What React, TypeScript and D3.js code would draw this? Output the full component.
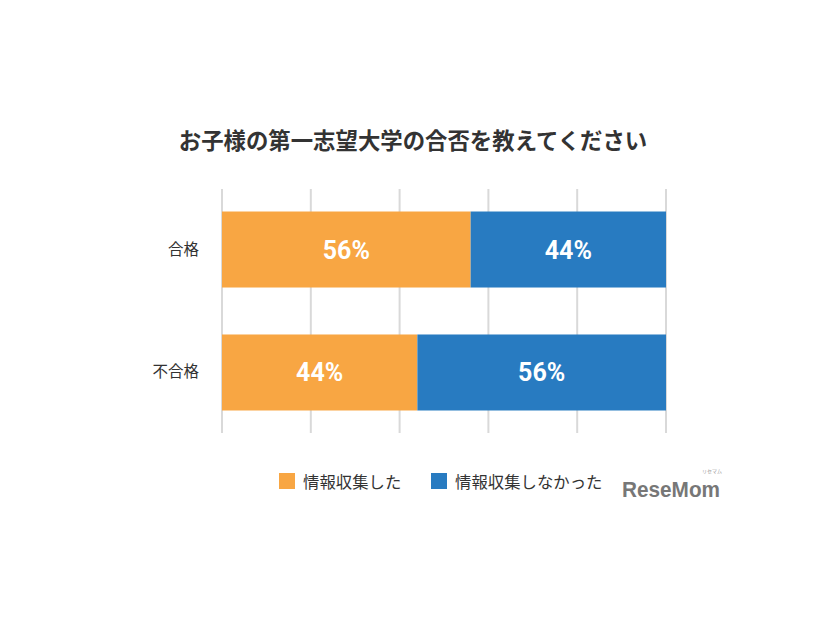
import React from "react";
import * as d3 from "d3";

const categories = ["合格", "不合格"];
const seriesNames = ["情報収集した", "情報収集しなかった"];
const collected = [56, 44];
const notCollected = [44, 56];
const ticks = [0, 20, 40, 60, 80, 100];
const colors = ["#F8A643", "#287BC1"];
const title = "お子様の第一志望大学の合否を教えてください";

export default function App() {
  const W = 826, H = 620;
  const x = d3.scaleLinear().domain([0, 100]).range([222, 666]);
  const y = d3.scaleBand().domain(categories).range([189, 433]).paddingInner(0.382).paddingOuter(0.183);
  const stack = d3.stack<any>().keys(["a", "b"])(
    categories.map((c, i) => ({ cat: c, a: collected[i], b: notCollected[i] }))
  );
  const font = "'Noto Sans CJK JP', 'Noto Sans', sans-serif";
  return (
    <svg width={W} height={H} style={{ position: "absolute", left: 0, top: 0, background: "#fff" }}>
      <rect width={W} height={H} fill="#fff" />
      <text x={413} y={149} textAnchor="middle" fontFamily={font} fontSize={22.4} fontWeight="bold" fill="#333">{title}</text>
      {ticks.map((t) => (
        <line key={t} x1={x(t)} x2={x(t)} y1={189} y2={433} stroke="#d9d9d9" strokeWidth={2} />
      ))}
      {stack.map((s, si) =>
        s.map((d: any, i: number) => {
          const cat = categories[i];
          const x0 = x(d[0]), x1 = x(d[1]);
          const yy = y(cat)!;
          return (
            <g key={si + "-" + i}>
              <rect x={x0} y={yy} width={x1 - x0} height={y.bandwidth()} fill={colors[si]} />
              <text x={(x0 + x1) / 2} y={yy + y.bandwidth() / 2 + 9} textAnchor="middle" fontFamily="Roboto, 'Liberation Sans', sans-serif" fontWeight="bold" fontSize={25} fill="#fff">
                {(si === 0 ? collected[i] : notCollected[i]) + "%"}
              </text>
            </g>
          );
        })
      )}
      {categories.map((c) => (
        <text key={c} x={199} y={y(c)! + y.bandwidth() / 2 + 5} textAnchor="end" fontFamily={font} fontSize={15.5} fill="#333">{c}</text>
      ))}
      {seriesNames.map((n, i) => {
        const lx = i === 0 ? 279 : 431;
        return (
          <g key={n}>
            <rect x={lx} y={473} width={16} height={16} fill={colors[i]} />
            <text x={lx + 24} y={487.5} fontFamily={font} fontSize={16.4} fill="#333">{n}</text>
          </g>
        );
      })}
      <text x={622} y={497} fontFamily="'Liberation Sans', Arial, sans-serif" fontWeight="bold" fontSize={22} fill="#777" textLength={98} lengthAdjust="spacingAndGlyphs">ReseMom</text>
      <text x={702} y={473} fontFamily={font} fontSize={5} fill="#999">リセマム</text>
    </svg>
  );
}
